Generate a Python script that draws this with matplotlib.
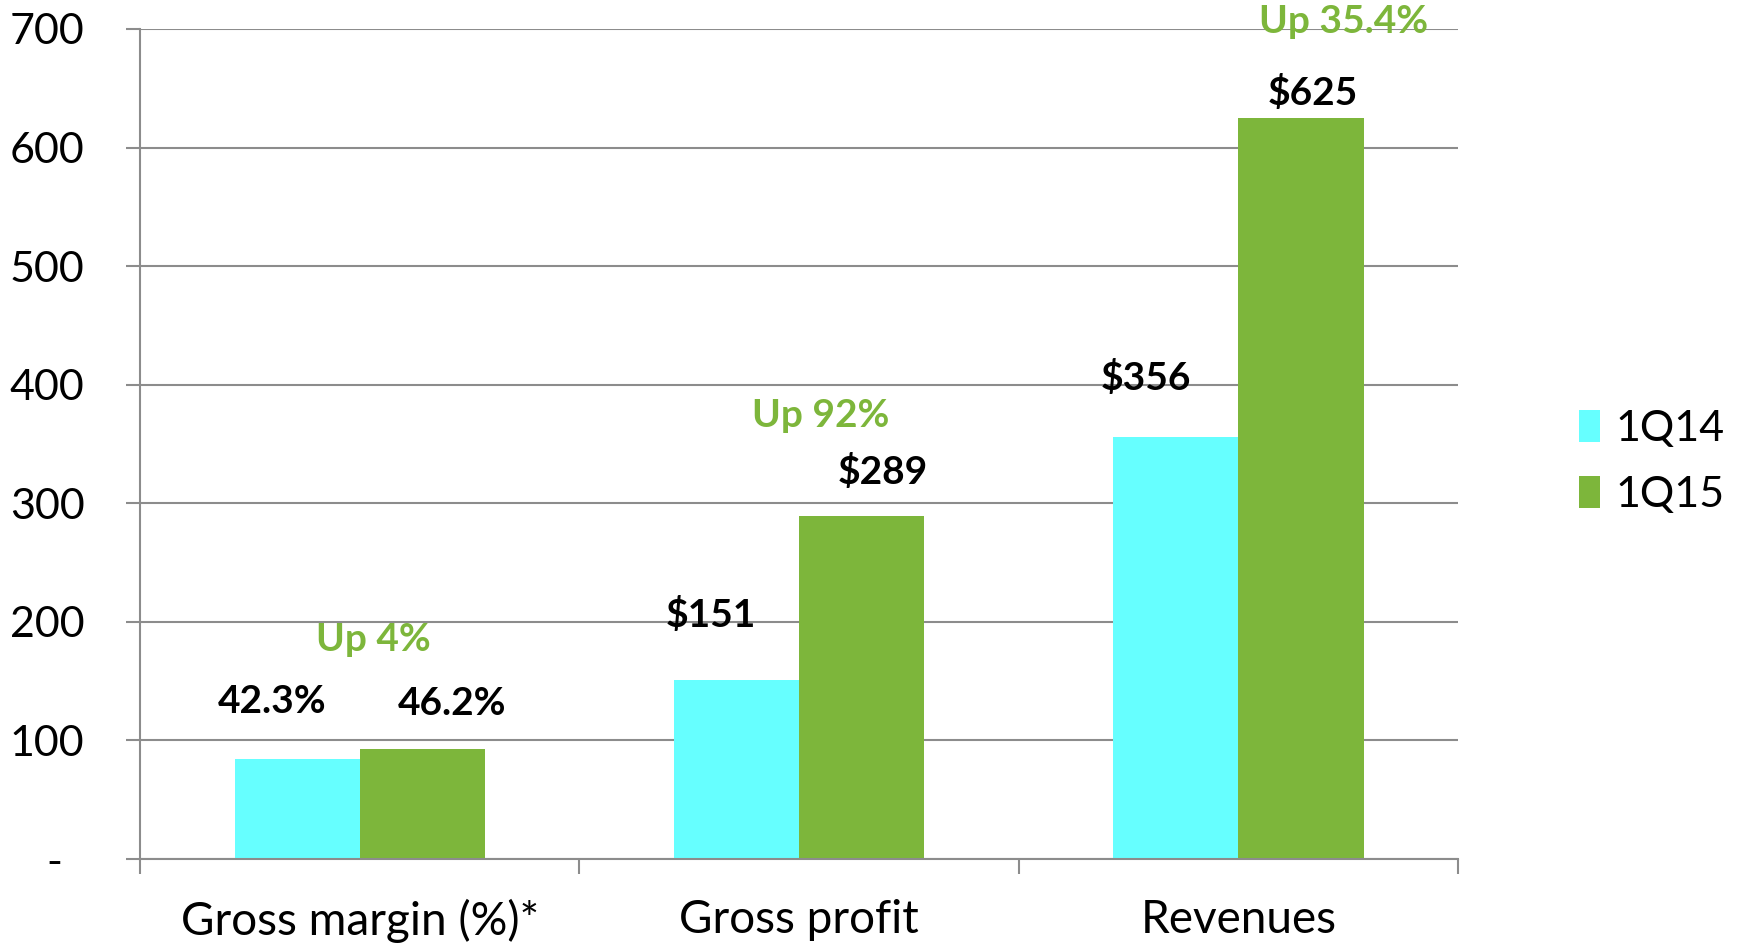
import numpy as np
import matplotlib
matplotlib.use("Agg")
import matplotlib.pyplot as plt

plt.rcParams['font.family'] = ['Lato', 'DejaVu Sans']

# chart data (USD millions; gross margin bars drawn at 2x the percentage)
categories = ['Gross margin (%)*', 'Gross profit', 'Revenues']
series_names = ['1Q14', '1Q15']
values_1q14 = [84.6, 151, 356]
values_1q15 = [92.4, 289, 625]
labels_1q14 = ['42.3%', '$151', '$356']
labels_1q15 = ['46.2%', '$289', '$625']
growth_labels = ['Up 4%', 'Up 92%', 'Up 35.4%']
y_ticks = [0, 100, 200, 300, 400, 500, 600, 700]
y_tick_labels = ['-  ', '100', '200', '300', '400', '500', '600', '700']

# label placement (x offset from category centre, y in data units)
pos_1q14 = [(-0.20, 133), (-0.20, 206), (-0.21, 406)]
pos_1q15 = [(0.21, 131), (0.19, 326), (0.17, 646)]
pos_growth = [(0.03, 185), (0.05, 374), (0.24, 706)]

cyan = '#66FFFF'
green = '#7DB63B'
grid_gray = '#8C8C8C'

fig = plt.figure(figsize=(17.42, 9.47), dpi=100)
ax = fig.add_axes([0.0804, 0.0929, 0.7566, 0.8765])

x = np.arange(len(categories))
w = 0.285
b1 = ax.bar(x - w / 2, values_1q14, w, color=cyan, label=series_names[0], zorder=2)
b2 = ax.bar(x + w / 2, values_1q15, w, color=green, label=series_names[1], zorder=2)

for i in range(len(categories)):
    dx, y = pos_1q14[i]
    ax.text(x[i] + dx, y, labels_1q14[i], ha='center', va='center',
            fontsize=28, fontweight='bold', color='black', zorder=3)
    dx, y = pos_1q15[i]
    ax.text(x[i] + dx, y, labels_1q15[i], ha='center', va='center',
            fontsize=28, fontweight='bold', color='black', zorder=3)
    dx, y = pos_growth[i]
    ax.text(x[i] + dx, y, growth_labels[i], ha='center', va='center',
            fontsize=28, fontweight='bold', color=green, zorder=3, clip_on=False)

ax.set_xlim(-0.5, len(categories) - 0.5)
ax.set_ylim(0, 700)

ax.set_yticks(y_ticks)
ax.set_yticklabels(y_tick_labels)
ax.yaxis.grid(True, color=grid_gray, linewidth=1.5)
ax.set_axisbelow(True)
ax.tick_params(axis='y', length=10, width=1.5, color=grid_gray, labelsize=31, pad=30)

# category labels at centres, tick marks at boundaries
ax.set_xticks(x)
ax.set_xticklabels(categories)
ax.set_xticks(np.arange(len(categories) + 1) - 0.5, minor=True)
ax.tick_params(axis='x', which='major', length=0, labelsize=33, pad=29)
ax.tick_params(axis='x', which='minor', length=11, width=1.5, color=grid_gray)

for s in ['top', 'right']:
    ax.spines[s].set_visible(False)
for s in ['left', 'bottom']:
    ax.spines[s].set_color(grid_gray)
    ax.spines[s].set_linewidth(1.5)

fig.legend(handles=[b1, b2], loc='center left', bbox_to_anchor=(0.884, 0.512),
           frameon=False, fontsize=31, handlelength=0.5, handleheight=0.75,
           handletextpad=0.35, labelspacing=0.65)

fig.savefig('out.png', dpi=100)
